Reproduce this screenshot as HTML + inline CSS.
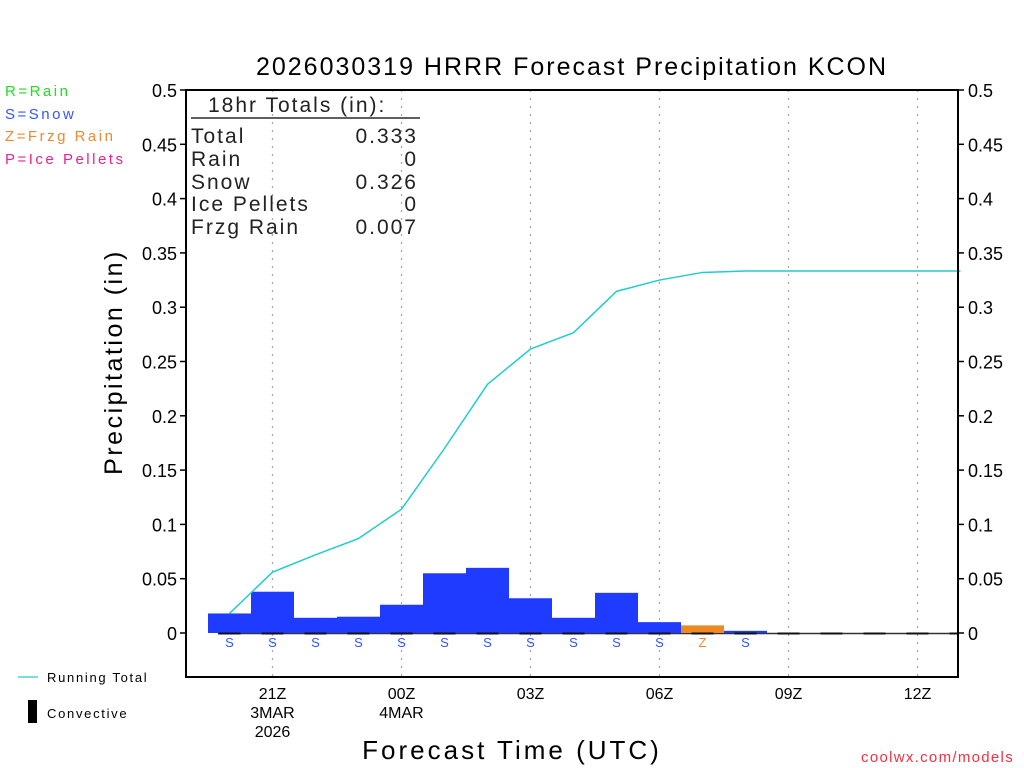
<!DOCTYPE html>
<html><head><meta charset="utf-8"><style>
html,body{margin:0;padding:0;background:#fff;}
svg{display:block;font-family:"Liberation Sans",sans-serif;}
</style></head><body>
<svg id="chart" width="1024" height="768" viewBox="0 0 1024 768">
<text x="572" y="75" font-size="25" text-anchor="middle" fill="#000" letter-spacing="2">2026030319 HRRR Forecast Precipitation KCON</text>
<g font-size="15" letter-spacing="2.5">
<text x="5" y="96" fill="#22dd22">R=Rain</text>
<text x="5" y="119" fill="#3355ff">S=Snow</text>
<text x="5" y="141" fill="#ee8833">Z=Frzg Rain</text>
<text x="5" y="164" fill="#ee2288">P=Ice Pellets</text>
</g>
<g id="grid"></g>
<g id="bars"></g>
<g id="line"></g>
<g id="axes"></g>
<g font-size="21" fill="#222" letter-spacing="2">
<text x="208" y="112">18hr Totals (in):</text>
<line x1="191" y1="118" x2="420" y2="118" stroke="#000" stroke-width="1.2"/>
<text x="191" y="143">Total</text><text x="418" y="143" text-anchor="end">0.333</text>
<text x="191" y="166">Rain</text><text x="418" y="166" text-anchor="end">0</text>
<text x="191" y="189">Snow</text><text x="418" y="189" text-anchor="end">0.326</text>
<text x="191" y="211">Ice Pellets</text><text x="418" y="211" text-anchor="end">0</text>
<text x="191" y="234">Frzg Rain</text><text x="418" y="234" text-anchor="end">0.007</text>
</g>
<text transform="translate(122,362) rotate(-90)" font-size="25" text-anchor="middle" letter-spacing="2.5">Precipitation (in)</text>
<text x="512" y="759" font-size="26" text-anchor="middle" letter-spacing="3">Forecast Time (UTC)</text>
<text x="1014" y="762" font-size="15" text-anchor="end" fill="#ee3344" letter-spacing="1.3">coolwx.com/models</text>
<g font-size="13" letter-spacing="1.7">
<line x1="18" y1="677" x2="38" y2="677" stroke="#22cccc" stroke-width="1.2"/>
<text x="47" y="682">Running Total</text>
<rect x="28" y="700" width="9" height="23" fill="#000"/>
<text x="47" y="718">Convective</text>
</g>
</svg>
<script>
const hours = [20,21,22,23,24,25,26,27,28,29,30,31,32,33,34,35,36,37];
const precipValues = [0.018,0.038,0.014,0.015,0.026,0.055,0.060,0.032,0.014,0.037,0.010,0.007,0.002,0,0,0,0,0];
const precipTypes = ['S','S','S','S','S','S','S','S','S','S','S','Z','S','','','','',''];
const runningTotal = [0.018,0.056,0.072,0.087,0.114,0.170,0.229,0.2615,0.2765,0.3146,0.325,0.332,0.3333,0.3333,0.3333,0.3333,0.3333,0.3333];
const yTicks = [0,0.05,0.1,0.15,0.2,0.25,0.3,0.35,0.4,0.45,0.5];
const xTickHours = [21,24,27,30,33,36];
const xTickLabels = [['21Z','3MAR','2026'],['00Z','4MAR'],['03Z'],['06Z'],['09Z'],['12Z']];

const NS='http://www.w3.org/2000/svg';
const L=186,R=958,T=90,B=677;
const x=h=>229.5+(h-20)*43;
const y=v=>633-v*1086;
function mk(tag,attrs,parent,text){const e=document.createElementNS(NS,tag);for(const k in attrs)e.setAttribute(k,attrs[k]);if(text!==undefined)e.textContent=text;parent.appendChild(e);return e;}
const grid=document.getElementById('grid'),bars=document.getElementById('bars'),line=document.getElementById('line'),axes=document.getElementById('axes');
xTickHours.forEach(h=>{const g=mk('line',{x1:x(h),y1:T,x2:x(h),y2:B,stroke:'#aaa','stroke-width':1.3,'stroke-dasharray':'2,6'},grid);

});
const colors={S:'#1f3bff',Z:'#ee8822',R:'#22dd22',P:'#ee2288'};
const zl=mk('line',{x1:218,y1:633.5,x2:R,y2:633.5,stroke:'#333','stroke-width':1.5},bars);


hours.forEach((h,i)=>{const v=precipValues[i];
if(v>0){const r=mk('rect',{x:x(h)-21.5,y:y(v),width:43,height:y(0)-y(v),fill:colors[precipTypes[i]]||'#1f3bff'},bars);

}
const c=mk('line',{x1:x(h)-11,y1:633.5,x2:Math.min(x(h)+11,R),y2:633.5,stroke:'#111','stroke-width':2},bars);


if(precipTypes[i]){const t=mk('text',{x:x(h),y:647,'font-size':13,'text-anchor':'middle',fill:precipTypes[i]==='Z'?'#ee8833':'#3355ff'},bars,precipTypes[i]);

}});
let pts=hours.map((h,i)=>x(h)+','+y(runningTotal[i]));
pts.push(R+','+y(runningTotal[runningTotal.length-1]));
const pl=mk('polyline',{points:pts.join(' '),fill:'none',stroke:'#22cccc','stroke-width':1.5},line);


const fr=mk('rect',{x:L,y:T,width:R-L,height:B-T,fill:'none',stroke:'#000','stroke-width':2},axes);


yTicks.forEach(v=>{const lbl=String(v);
const a=mk('text',{x:L-9,y:y(v)+7,'font-size':18,'text-anchor':'end'},axes,lbl);


const b=mk('text',{x:R+10,y:y(v)+7,'font-size':18},axes,lbl);


mk('line',{x1:L-6,y1:y(v),x2:L,y2:y(v),stroke:'#000','stroke-width':1.5},axes);
mk('line',{x1:R,y1:y(v),x2:R+6,y2:y(v),stroke:'#000','stroke-width':1.5},axes);});
xTickHours.forEach((h,i)=>{xTickLabels[i].forEach((s,j)=>{const t=mk('text',{x:x(h),y:699+j*19,'font-size':16,'text-anchor':'middle'},axes,s);

});});
</script>
</body></html>
